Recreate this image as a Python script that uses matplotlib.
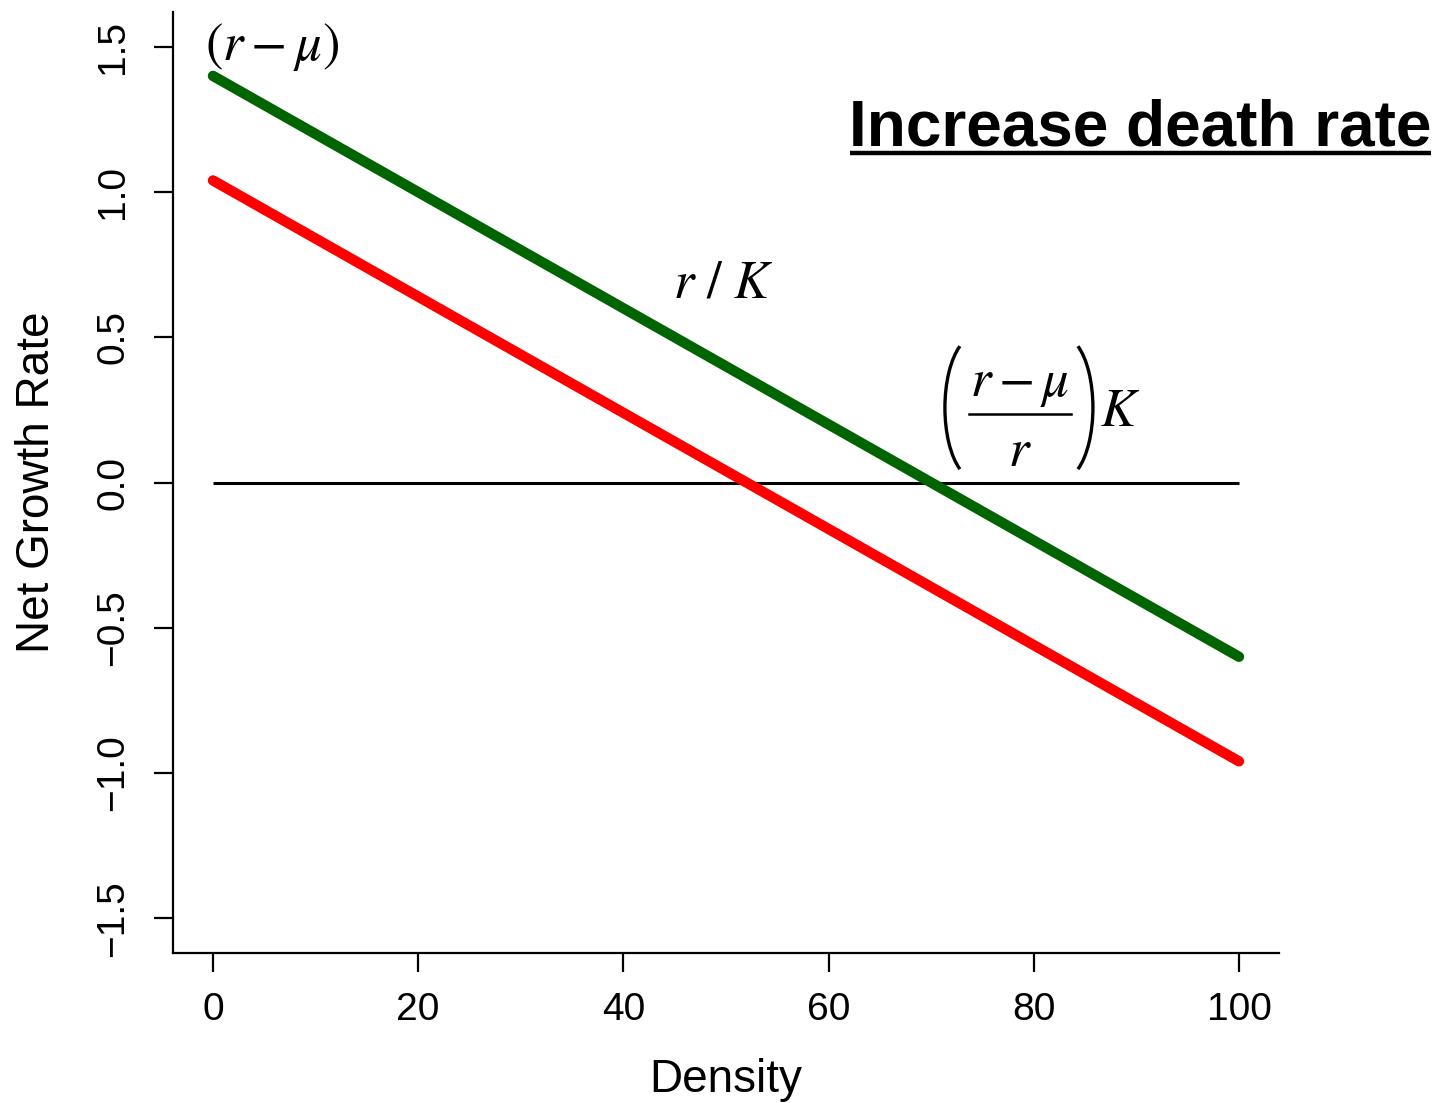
import matplotlib
matplotlib.use("Agg")
import matplotlib.pyplot as plt
from matplotlib.lines import Line2D
from matplotlib.patches import Arc
from matplotlib.transforms import Affine2D
import numpy as np

plt.rcParams['font.family'] = ['Liberation Sans', 'DejaVu Sans']
plt.rcParams['mathtext.fontset'] = 'stix'

# data
density = np.array([0, 100])
base_rate = np.array([1.40, -0.60])      # green
increased_death = np.array([1.04, -0.96])  # red
zero_line = np.array([0.0, 0.0])
xticks = [0, 20, 40, 60, 80, 100]
yticks = [-1.5, -1.0, -0.5, 0.0, 0.5, 1.0, 1.5]

fig = plt.figure(figsize=(14.39, 11.03), dpi=100)
ax = fig.add_axes([0.1202, 0.1360, 0.7686, 0.8531])

ax.plot(density, zero_line, color='black', lw=2.2, solid_capstyle='butt')
ax.plot(density, base_rate, color='#006400', lw=7.5, solid_capstyle='round')
ax.plot(density, increased_death, color='#ff0000', lw=7.5, solid_capstyle='round')

ax.set_xlim(-3.9, 103.9)
ax.set_ylim(-1.62, 1.62)
ax.set_xticks(xticks)
ax.set_yticks(yticks)
ax.set_xticklabels([str(t) for t in xticks])
ax.set_yticklabels([('%.1f' % t).replace('-', '\u2212') for t in yticks],
                   rotation=90, va='center')

for s in ['top', 'right']:
    ax.spines[s].set_visible(False)
for s in ['left', 'bottom']:
    ax.spines[s].set_linewidth(1.6)
ax.tick_params(axis='both', length=14, width=1.6, labelsize=28, pad=14)
ax.tick_params(axis='y', pad=16)

ax.set_xlabel('Density', fontsize=33, labelpad=22)
ax.set_ylabel('Net Growth Rate', fontsize=33, labelpad=26)

# annotations
ax.text(5.75, 1.50, r'$(r-\mu)$', fontsize=38, ha='center', va='center')
ax.text(49.7, 0.685, r'$r\ /\ K$', fontsize=38, ha='center', va='center')

# equilibrium label ((r-mu)/r)K, built from pieces (offsets in pixels from anchor)
anchor = (78.65, 0.237)
pt = 0.72
def piece(s, dx, dy, ha='center'):
    ax.annotate(s, xy=anchor, xytext=(dx * pt, dy * pt), textcoords='offset points',
                fontsize=38, ha=ha, va='baseline', annotation_clip=False)

piece(r'$r-\mu$', 0, 18)
piece(r'$r$', 0, -52)
piece(r'$K$', 80, -12, ha='left')

fig.canvas.draw()
ax_px = ax.transData.transform(anchor)
fig.add_artist(Line2D([ax_px[0] - 51, ax_px[0] + 51], [ax_px[1], ax_px[1]],
                      transform=Affine2D(), color='black', lw=1.8))
# parentheses as thin elliptical arcs (polar angles)
a, b = 30, 71
th = np.degrees(np.arctan(b / a * np.tan(np.radians(60))))
paren_tr = Affine2D().translate(ax_px[0], ax_px[1] + 6)
fig.add_artist(Arc((-45, 0), 2 * a, 2 * b, theta1=180 - th, theta2=180 + th,
                   transform=paren_tr, color='black', lw=2.4))
fig.add_artist(Arc((43, 0), 2 * a, 2 * b, theta1=-th, theta2=th,
                   transform=paren_tr, color='black', lw=2.4))

title = ax.text(90.4, 1.22, 'Increase death rate', fontsize=46, fontweight='bold',
                ha='center', va='center', clip_on=False)

# underline the title
fig.canvas.draw()
bb = title.get_window_extent(fig.canvas.get_renderer())
inv = fig.transFigure.inverted()
(x0, y0), (x1, _) = inv.transform([(bb.x0 + 1, bb.y0 + 5), (bb.x1 - 1, bb.y0)])
fig.add_artist(Line2D([x0, x1], [y0, y0], transform=fig.transFigure,
                      color='black', lw=3.2, solid_capstyle='butt'))

fig.savefig('out.png', dpi=100)
